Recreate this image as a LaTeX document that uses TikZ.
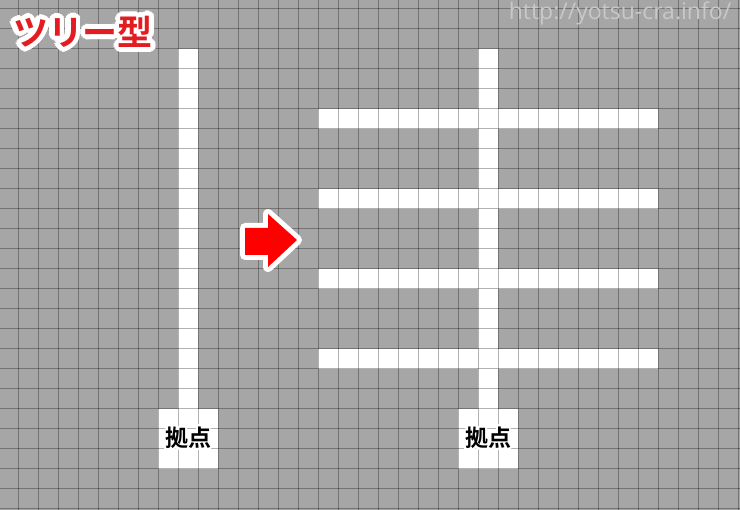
\documentclass[tikz,border=0pt]{standalone}
\usepackage{fontspec}
\newfontfamily\jpfont{Noto Sans CJK JP Bold}
\newfontfamily\urlfont{Open Sans}
\usetikzlibrary{calc}
\definecolor{bggray}{RGB}{166,166,166}
\definecolor{titlered}{RGB}{226,28,33}
\definecolor{arrowred}{RGB}{255,0,0}
\definecolor{urlgray}{RGB}{200,200,200}

% white copies round a point, for a halo behind a text
\newcommand{\haloat}[4]{%
  \foreach \r in {#2,0.5*#2}
    \foreach \a in {0,20,...,340}
      \node[#3,text=white] at ($(#1)+(\a:\r pt)$) {#4};
}

\begin{document}
\begin{tikzpicture}[x=1pt,y=-1pt,inner sep=0pt,
    grid line/.style={black,opacity=0.3,line width=1pt},
    cell/.style={fill=white},
    title text/.style={font=\jpfont\fontsize{35}{35}\selectfont},
    base text/.style={font=\jpfont\fontsize{23}{23}\selectfont},
    url text/.style={font=\urlfont\fontsize{23}{23}\selectfont,text=urlgray}]

    \useasboundingbox (0,0) rectangle (740,510);
    \fill[bggray] (0,0) rectangle (740,510);

    % before: one trunk
    \fill[cell] (178,49) rectangle (198,409);
    \fill[cell] (158,409) rectangle (218,469);

    % after: trunk and branches
    \fill[cell] (478,49) rectangle (498,409);
    \fill[cell] (458,409) rectangle (518,469);
    \foreach \y in {109,189,269,349}
        \fill[cell] (318,\y) rectangle (658,\y+20);

    % grid
    \foreach \x in {18,38,...,738}
        \draw[grid line] (\x,0) -- (\x,510);
    \foreach \y in {9,29,...,509}
        \draw[grid line] (0,\y) -- (740,\y);

    % arrow
    \fill[arrowred,preaction={draw=white,line width=10pt,line join=round}]
        (245,228) -- (268,228) -- (268,214) -- (297,240)
        -- (268,267) -- (268,255) -- (245,255) -- cycle;

    % texts
    \coordinate (titlepos) at (83,32);
    \haloat{titlepos}{5}{title text}{ツリー型}
    \node[title text,text=titlered] (title) at (titlepos) {ツリー型};

    \coordinate (base1pos) at (188,438);
    \coordinate (base2pos) at (488,438);
    \haloat{base1pos}{2}{base text}{拠点}
    \haloat{base2pos}{2}{base text}{拠点}
    \node[base text] (base1) at (base1pos) {拠点};
    \node[base text] (base2) at (base2pos) {拠点};

    \node[url text] (url) at (620,13) {http://yotsu-cra.info/};
\end{tikzpicture}
\end{document}
